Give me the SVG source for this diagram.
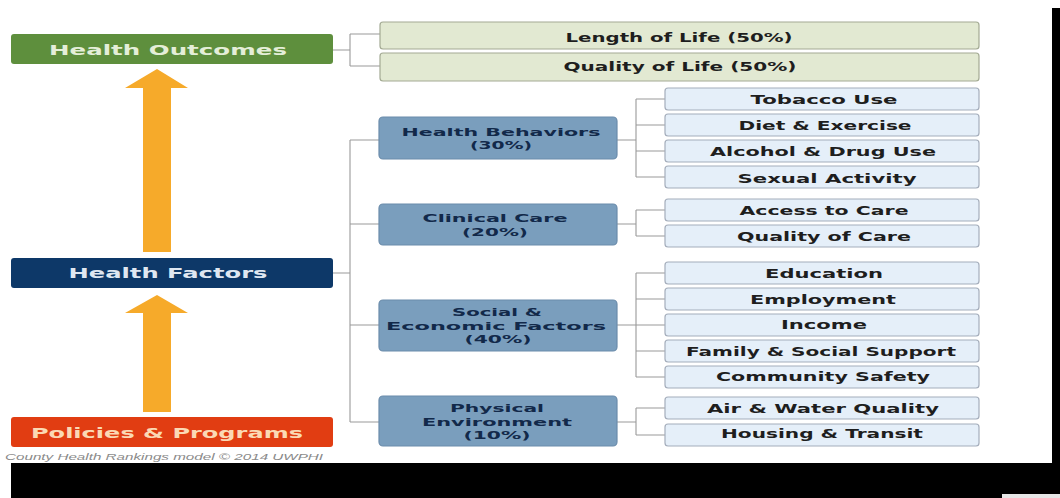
<svg xmlns="http://www.w3.org/2000/svg" width="1060" height="498" viewBox="0 0 1060 498">
<style>
text{font-family:"DejaVu Sans","Liberation Sans",sans-serif;font-weight:bold;text-anchor:middle}
.main{font-size:14px}
.out rect{fill:#e2e9d2;stroke:#a3aa93;stroke-width:1.2}
.cat rect{fill:#7a9ebd;stroke:#6b8cab;stroke-width:1.2}
.sub rect{fill:#e5eff9;stroke:#a4adbb;stroke-width:1.2}
.out text,.sub text{font-size:12px;fill:#1e1e1e}
.cat text{font-size:10.5px;fill:#12294a}
#connectors path{fill:none;stroke:#9a9a9a;stroke-width:1.1}
.arrow{fill:#f6aa2a}
</style>
<rect width="1060" height="498" fill="#ffffff"/>
<rect x="11" y="463" width="1049" height="35" fill="#000000"/>
<rect x="1052" y="8" width="8" height="455" fill="#000000"/>
<rect x="1002" y="494" width="58" height="4" fill="#e6e6e6"/>

<g id="connectors">
<path d="M333,50H350M350,34V66M350,34H380M350,66H380"/>
<path d="M333,273H350M350,140V422M350,140H379M350,224H379M350,325H379M350,422H379"/>
<path d="M617,140H636M636,99V177M636,99H665M636,125H665M636,151H665M636,177H665"/>
<path d="M617,224H636M636,210V236M636,210H665M636,236H665"/>
<path d="M617,325H636M636,273V377M636,273H665M636,299H665M636,325H665M636,351H665M636,377H665"/>
<path d="M617,422H636M636,408V435M636,408H665M636,435H665"/>
</g>

<g id="arrow-outcomes"><path class="arrow" d="M157,69L188,88H171V252H143V88H125Z"/></g>
<g id="arrow-factors"><path class="arrow" d="M157,295L188,313H171V412H143V313H125Z"/></g>

<g id="health-outcomes"><rect x="11" y="34" width="322" height="30" rx="3" fill="#5e8f3d"/><text class="main" x="168" y="55" textLength="238" lengthAdjust="spacingAndGlyphs" fill="#e4eed8">Health Outcomes</text></g>
<g id="health-factors"><rect x="11" y="258" width="322" height="30" rx="3" fill="#0d3868"/><text class="main" x="168" y="278" textLength="199" lengthAdjust="spacingAndGlyphs" fill="#dfe7f1">Health Factors</text></g>
<g id="policies-programs"><rect x="11" y="417" width="322" height="30" rx="3" fill="#e13d12"/><text class="main" x="167" y="438" textLength="272" lengthAdjust="spacingAndGlyphs" fill="#fbd9b4">Policies &amp; Programs</text></g>
<text x="164" y="460" style="font-size:9px;font-weight:normal;font-style:italic;fill:#8a8a8a;font-family:'Liberation Sans',sans-serif" textLength="318" lengthAdjust="spacingAndGlyphs">County Health Rankings model © 2014 UWPHI</text>

<g id="length-of-life" class="out"><rect x="380" y="22" width="599" height="27" rx="3"/><text x="679" y="41.5" textLength="227" lengthAdjust="spacingAndGlyphs">Length of Life (50%)</text></g>
<g id="quality-of-life" class="out"><rect x="380" y="53" width="599" height="28" rx="3"/><text x="680" y="71" textLength="233" lengthAdjust="spacingAndGlyphs">Quality of Life (50%)</text></g>

<g id="health-behaviors" class="cat"><rect x="379" y="117" width="238" height="42" rx="4"/><text x="501" y="136" textLength="199" lengthAdjust="spacingAndGlyphs">Health Behaviors</text><text x="501" y="149" textLength="62" lengthAdjust="spacingAndGlyphs">(30%)</text></g>
<g id="clinical-care" class="cat"><rect x="379" y="204" width="238" height="41" rx="4"/><text x="495" y="222" textLength="145" lengthAdjust="spacingAndGlyphs">Clinical Care</text><text x="495" y="236" textLength="66" lengthAdjust="spacingAndGlyphs">(20%)</text></g>
<g id="social-economic" class="cat"><rect x="379" y="300" width="238" height="51" rx="4"/><text x="497" y="316" textLength="90" lengthAdjust="spacingAndGlyphs">Social &amp;</text><text x="496" y="329.5" textLength="220" lengthAdjust="spacingAndGlyphs">Economic Factors</text><text x="498" y="343" textLength="67" lengthAdjust="spacingAndGlyphs">(40%)</text></g>
<g id="physical-environment" class="cat"><rect x="379" y="396" width="238" height="50" rx="4"/><text x="497" y="412" textLength="94" lengthAdjust="spacingAndGlyphs">Physical</text><text x="497" y="425.5" textLength="150" lengthAdjust="spacingAndGlyphs">Environment</text><text x="497" y="439" textLength="67" lengthAdjust="spacingAndGlyphs">(10%)</text></g>

<g id="tobacco-use" class="sub"><rect x="665" y="88" width="314" height="22" rx="3"/><text x="824" y="103.5" textLength="147" lengthAdjust="spacingAndGlyphs">Tobacco Use</text></g>
<g id="diet-exercise" class="sub"><rect x="665" y="114" width="314" height="22" rx="3"/><text x="825" y="130" textLength="173" lengthAdjust="spacingAndGlyphs">Diet &amp; Exercise</text></g>
<g id="alcohol-drug-use" class="sub"><rect x="665" y="140" width="314" height="22" rx="3"/><text x="823" y="156" textLength="226" lengthAdjust="spacingAndGlyphs">Alcohol &amp; Drug Use</text></g>
<g id="sexual-activity" class="sub"><rect x="665" y="166" width="314" height="22" rx="3"/><text x="827" y="182.5" textLength="179" lengthAdjust="spacingAndGlyphs">Sexual Activity</text></g>
<g id="access-to-care" class="sub"><rect x="665" y="199" width="314" height="22" rx="3"/><text x="824" y="214.5" textLength="169" lengthAdjust="spacingAndGlyphs">Access to Care</text></g>
<g id="quality-of-care" class="sub"><rect x="665" y="225" width="314" height="22" rx="3"/><text x="824" y="240.5" textLength="174" lengthAdjust="spacingAndGlyphs">Quality of Care</text></g>
<g id="education" class="sub"><rect x="665" y="262" width="314" height="22" rx="3"/><text x="824" y="277.5" textLength="118" lengthAdjust="spacingAndGlyphs">Education</text></g>
<g id="employment" class="sub"><rect x="665" y="288" width="314" height="22" rx="3"/><text x="823" y="303.5" textLength="146" lengthAdjust="spacingAndGlyphs">Employment</text></g>
<g id="income" class="sub"><rect x="665" y="314" width="314" height="22" rx="3"/><text x="824" y="329" textLength="86" lengthAdjust="spacingAndGlyphs">Income</text></g>
<g id="family-social-support" class="sub"><rect x="665" y="340" width="314" height="22" rx="3"/><text x="821" y="355.5" textLength="270" lengthAdjust="spacingAndGlyphs">Family &amp; Social Support</text></g>
<g id="community-safety" class="sub"><rect x="665" y="366" width="314" height="22" rx="3"/><text x="823" y="381" textLength="214" lengthAdjust="spacingAndGlyphs">Community Safety</text></g>
<g id="air-water-quality" class="sub"><rect x="665" y="397" width="314" height="22" rx="3"/><text x="823" y="412.5" textLength="232" lengthAdjust="spacingAndGlyphs">Air &amp; Water Quality</text></g>
<g id="housing-transit" class="sub"><rect x="665" y="424" width="314" height="22" rx="3"/><text x="822" y="437.5" textLength="202" lengthAdjust="spacingAndGlyphs">Housing &amp; Transit</text></g>
</svg>
